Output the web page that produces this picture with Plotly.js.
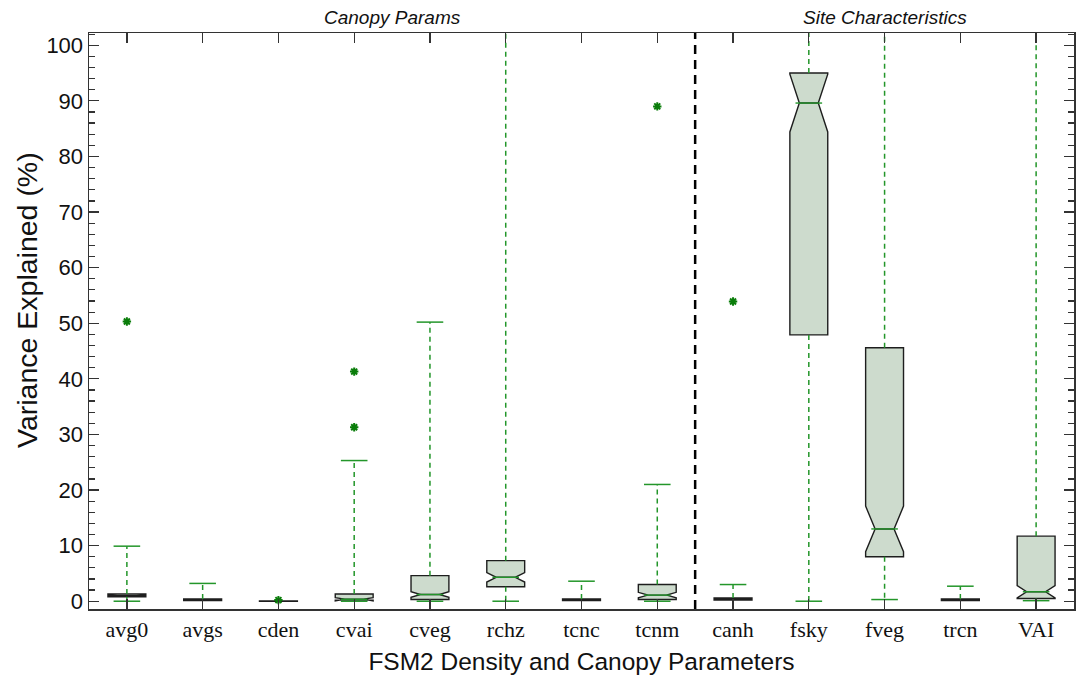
<!DOCTYPE html>
<html>
<head>
<meta charset="utf-8">
<script src="https://cdn.plot.ly/plotly-3.0.1.min.js"></script>
<style>html,body{margin:0;padding:0;background:#fff;}#chart{width:1083px;height:676px;}</style>
</head>
<body>
<div id="chart"></div>
<script>
// ---- data ----
const categories = ['avg0','avgs','cden','cvai','cveg','rchz','tcnc','tcnm','canh','fsky','fveg','trcn','VAI'];
const q1         = [0.8, 0.1, 0.0, 0.2, 0.3, 2.6, 0.1, 0.3, 0.2, 47.9, 8.0, 0.1, 0.5];
const medians    = [1.0, 0.2, 0.0, 0.35, 1.2, 4.3, 0.2, 1.1, 0.4, 89.6, 13.0, 0.2, 1.7];
const q3         = [1.3, 0.4, 0.05, 1.3, 4.6, 7.3, 0.4, 3.0, 0.6, 95.0, 45.6, 0.4, 11.7];
const notchspans = [0.1, 0.05, 0.01, 0.3, 0.5, 0.85, 0.05, 0.5, 0.1, 5.2, 4.1, 0.05, 1.1];
const lowerFence = [0.0, 0.1, 0.0, 0.0, 0.0, 0.0, 0.1, 0.0, 0.2, 0.0, 0.3, 0.1, 0.1];
const upperFence = [9.9, 3.2, 0.05, 25.3, 50.2, 110, 3.6, 21.0, 3.0, 110, 110, 2.7, 110];
const outlierCats = ['avg0','cden','cvai','cvai','tcnm','canh'];
const outlierVals = [50.3, 0.2, 41.3, 31.3, 89.0, 53.9];
const groupLabels = ['Canopy Params','Site Characteristics'];
const groupFirst  = ['avg0','canh'];
const groupLast   = ['tcnm','VAI'];
const xTitle = 'FSM2 Density and Canopy Parameters';
const yTitle = 'Variance Explained (%)';

// ---- styles ----
const green = '#23962a';
const darkGreen = '#0a7d0a';
const boxFill = '#cddbcd';
const boxLine = '#1e1e1e';

// whisker segments
const wx = [], wy = [], cx = [], cy = [], mx = [], my = [];
categories.forEach((c, i) => {
  if (upperFence[i] > q3[i]) {
    wx.push(c, c, null); wy.push(q3[i], upperFence[i], null);
    cx.push(c); cy.push(upperFence[i]);
  }
  if (lowerFence[i] < q1[i]) {
    wx.push(c, c, null); wy.push(q1[i], lowerFence[i], null);
    cx.push(c); cy.push(lowerFence[i]);
  }
  if (q3[i] - q1[i] > 1) { mx.push(c); my.push(medians[i]); }
});

const traces = [
  {
    type: 'box', x: categories, q1: q1, median: medians, q3: q3,
    lowerfence: q1, upperfence: q3, notchspan: notchspans,
    notched: true, notchwidth: 0.25, width: 0.5, boxpoints: false,
    fillcolor: boxFill, line: {color: boxLine, width: 1.4},
    whiskerwidth: 0, hoverinfo: 'skip', showlegend: false
  },
  {
    type: 'scatter', mode: 'lines', x: wx, y: wy, connectgaps: false,
    line: {color: green, width: 1.5, dash: '5px,4px'}, hoverinfo: 'skip', showlegend: false
  },
  {
    type: 'scatter', mode: 'markers', x: cx, y: cy,
    marker: {symbol: 'line-ew', size: 19, line: {color: green, width: 1.5}},
    hoverinfo: 'skip', showlegend: false
  },
  {
    type: 'scatter', mode: 'markers', x: mx, y: my,
    marker: {symbol: 'line-ew', size: 19, line: {color: green, width: 1.4}},
    hoverinfo: 'skip', showlegend: false
  },
  {
    type: 'scatter', mode: 'markers', x: outlierCats, y: outlierVals,
    marker: {symbol: 'asterisk-open', size: 7, color: darkGreen, line: {color: darkGreen, width: 2}},
    hoverinfo: 'skip', showlegend: false
  }
];

const axisCommon = {
  showline: true, linecolor: '#333', linewidth: 1.5, mirror: 'ticks',
  ticks: 'inside', ticklen: 10, tickcolor: '#333', tickwidth: 1.3,
  showgrid: false, zeroline: false
};

const sepX = categories.indexOf(groupFirst[1]) - 0.5;

const annotations = groupLabels.map((t, k) => ({
  text: '<i>' + t + '</i>', xref: 'x', yref: 'paper',
  x: (categories.indexOf(groupFirst[k]) + categories.indexOf(groupLast[k])) / 2,
  y: 1, yanchor: 'bottom', yshift: 3, showarrow: false,
  font: {family: 'Liberation Sans', size: 19, color: '#111'}
}));
annotations.push({
  text: yTitle, xref: 'paper', yref: 'paper', x: 0, y: 0.5, xanchor: 'center', yanchor: 'middle',
  xshift: -62, yshift: 21, textangle: -90, showarrow: false,
  font: {family: 'Liberation Sans', size: 28.5, color: '#111'}
});

const layout = {
  width: 1083, height: 676,
  margin: {l: 89, r: 9, t: 33, b: 67},
  paper_bgcolor: '#fff', plot_bgcolor: '#fff',
  xaxis: Object.assign({}, axisCommon, {
    type: 'category', categoryorder: 'array', categoryarray: categories,
    range: [-0.5, categories.length - 0.5],
    tickfont: {family: 'Liberation Serif', size: 22, color: '#111'},
    title: {text: xTitle, font: {family: 'Liberation Sans', size: 24.5, color: '#111'}, standoff: 12}
  }),
  yaxis: Object.assign({}, axisCommon, {
    range: [-1.4, 102.2], dtick: 10, tick0: 0,
    tickfont: {family: 'Liberation Sans', size: 22, color: '#111'},
    minor: {dtick: 2, ticks: 'inside', ticklen: 6, tickcolor: '#333', tickwidth: 1.2}
  }),
  shapes: [{
    type: 'line', xref: 'x', yref: 'paper', x0: sepX, x1: sepX, y0: 0, y1: 1,
    line: {color: '#000', width: 2.5, dash: '9px,6px'}
  }],
  annotations: annotations
};

Plotly.newPlot('chart', traces, layout, {displayModeBar: false, staticPlot: true});
</script>
</body>
</html>
